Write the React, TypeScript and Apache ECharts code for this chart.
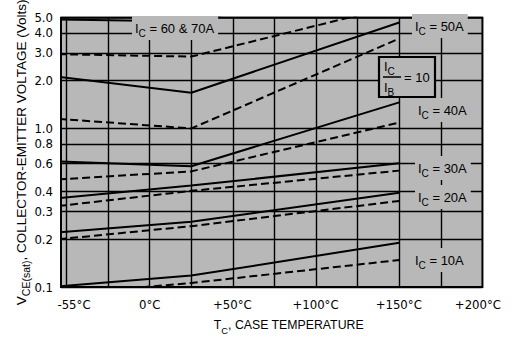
import React, { useEffect, useRef } from 'react';
import * as echarts from 'echarts';

// Case temperatures (°C) where each curve is read
const temps = [-55, 25, 150];

// Solid curves (V)
const solid10A = [0.101, 0.118, 0.19];
const solid20A = [0.221, 0.258, 0.393];
const solid30A = [0.363, 0.436, 0.603];
const solid40A = [0.62, 0.578, 1.46];
const solid50A = [2.12, 1.68, 4.66];
const solid6070A = [4.86, 4.73, 8.6];

// Dashed curves (V)
const dashed10A = [0.09, 0.106, 0.148];
const dashed20A = [0.2, 0.242, 0.349];
const dashed30A = [0.324, 0.404, 0.542];
const dashed40A = [0.477, 0.536, 1.09];
const dashed50A = [1.15, 1.0, 3.69];
const dashed6070A = [2.94, 2.84, 6.0];

const yTickValues = [0.1, 0.2, 0.3, 0.4, 0.6, 0.8, 1.0, 2.0, 3.0, 4.0, 5.0];
const xGridValues = [-50, -25, 0, 25, 50, 75, 100, 125, 150, 175];
const xTickValues = [-55, 0, 50, 100, 150, 200];
const xTickLabels = ['-55°C', '0°C', '+50°C', '+100°C', '+150°C', '+200°C'];
const curveLabels = ['60 & 70A', '50A', '40A', '30A', '20A', '10A'];

const X_MIN = -53.3;
const X_MAX = 200;
const PLOT_BG = '#b8b8b8';
const TICK_FONT = "'Liberation Sans Narrow', 'Arial Narrow', 'DejaVu Sans Condensed', sans-serif";
const TEXT_FONT = "'Liberation Sans', Arial, sans-serif";

export default function App() {
  const ref = useRef<HTMLDivElement>(null);

  useEffect(() => {
    if (!ref.current) return;
    const chart = echarts.init(ref.current, undefined, { renderer: 'svg' });

    const subRich = (size: number) => ({
      a: { fontSize: size, lineHeight: 20, verticalAlign: 'middle', fontFamily: TEXT_FONT, color: '#000' },
      b: { fontSize: size - 3, lineHeight: 10, verticalAlign: 'bottom', fontFamily: TEXT_FONT, color: '#000' },
    });

    const mk = (vals: number[], dashed: boolean) => ({
      type: 'line',
      data: temps.map((t, i) => [t, vals[i]]),
      showSymbol: false,
      symbol: 'none',
      silent: true,
      z: 3,
      lineStyle: { color: '#000', width: 2, type: dashed ? [8, 4] : 'solid' },
    });

    const xLabelPos = xTickValues.map((v) => Math.min(Math.max(v, X_MIN), X_MAX));
    const xFormatter = (v: number) => {
      let idx = 0;
      let best = Infinity;
      xLabelPos.forEach((p, i) => {
        if (Math.abs(p - v) < best) {
          best = Math.abs(p - v);
          idx = i;
        }
      });
      const key = idx === 0 ? 'l' : idx === xLabelPos.length - 1 ? 'r' : idx === 1 ? 'c' : 'm';
      return `{${key}|${xTickLabels[idx]}}`;
    };
    const tickStyle = { fontFamily: TICK_FONT, fontSize: 13, lineHeight: 14, color: '#000' };

    const annPos = [
      [132, 28],
      [412, 26],
      [415, 110],
      [415, 168],
      [415, 197],
      [412, 260],
    ];

    const graphics: any[] = curveLabels.map((lab, i) => ({
      type: 'text',
      x: annPos[i][0],
      y: annPos[i][1],
      z: 50,
      style: {
        text: `{a|I}{b|C}{a| = ${lab}}`,
        rich: subRich(13),
        verticalAlign: 'middle',
        align: 'left',
        backgroundColor: PLOT_BG,
        padding: [2, 4, 2, 3],
      },
    }));
    graphics.push(
      {
        type: 'rect',
        z: 50,
        shape: { x: 379, y: 57, width: 56, height: 40 },
        style: { fill: PLOT_BG, stroke: '#000', lineWidth: 2.2 },
      },
      {
        type: 'text', x: 384, y: 66, z: 51,
        style: { text: '{a|I}{b|C}', rich: subRich(13), verticalAlign: 'middle', align: 'left' },
      },
      {
        type: 'line', z: 51,
        shape: { x1: 383, y1: 77, x2: 401, y2: 77 },
        style: { stroke: '#000', lineWidth: 1.5 },
      },
      {
        type: 'text', x: 384, y: 87, z: 51,
        style: { text: '{a|I}{b|B}', rich: subRich(13), verticalAlign: 'middle', align: 'left' },
      },
      {
        type: 'text', x: 404, y: 77, z: 51,
        style: { text: '= 10', font: `13px ${TEXT_FONT}`, fill: '#000', verticalAlign: 'middle', align: 'left' },
      }
    );

    const option: any = {
      animation: false,
      backgroundColor: '#ffffff',
      grid: {
        left: 61, right: 19, top: 11, bottom: 46,
        show: true, backgroundColor: PLOT_BG, borderColor: '#000', borderWidth: 2,
      },
      xAxis: {
        type: 'value', min: X_MIN, max: X_MAX,
        splitLine: { show: false }, axisLine: { show: false }, axisTick: { show: false },
        axisLabel: {
          customValues: xLabelPos,
          margin: 10,
          formatter: xFormatter,
          ...tickStyle,
          rich: {
            l: { ...tickStyle, padding: [0, 0, 0, 26] },
            c: { ...tickStyle },
            m: { ...tickStyle, padding: [0, 1, 0, 0] },
            r: { ...tickStyle, padding: [0, 9, 0, 0] },
          },
        },
        name: '{a|T}{b|C}{a|, CASE TEMPERATURE}',
        nameLocation: 'middle',
        nameGap: 28,
        nameTextStyle: { rich: subRich(12.3), padding: [0, 0, 0, 34] },
      },
      yAxis: {
        type: 'log', logBase: 10, min: 0.1, max: 5,
        splitLine: { show: false }, axisLine: { show: false }, axisTick: { show: false },
        axisLabel: { show: false },
        name: '{a|V}{b|CE(sat)}{a|, COLLECTOR-EMITTER VOLTAGE (Volts)}',
        nameLocation: 'middle',
        nameRotate: 90,
        nameGap: 30,
        nameTextStyle: { rich: subRich(13.5) },
      },
      graphic: graphics,
      series: [
        {
          type: 'line',
          data: [],
          z: 1,
          silent: true,
          markLine: {
            silent: true,
            symbol: ['none', 'none'],
            animation: false,
            lineStyle: { color: '#000', width: 1.4, type: 'solid' },
            data: [
              ...yTickValues.map((v) => ({
                yAxis: v,
                label: {
                  show: true,
                  position: 'start',
                  distance: 8,
                  formatter: (p: any) => Number(p.value).toFixed(1),
                  fontFamily: TICK_FONT,
                  fontSize: 13,
                  color: '#000',
                },
              })),
              ...xGridValues.map((v) => ({ xAxis: v, label: { show: false } })),
            ],
          },
        },
        mk(solid10A, false),
        mk(solid20A, false),
        mk(solid30A, false),
        mk(solid40A, false),
        mk(solid50A, false),
        mk(solid6070A, false),
        mk(dashed10A, true),
        mk(dashed20A, true),
        mk(dashed30A, true),
        mk(dashed40A, true),
        mk(dashed50A, true),
        mk(dashed6070A, true),
      ],
    };

    chart.setOption(option);
    return () => chart.dispose();
  }, []);

  return (
    <div
      ref={ref}
      style={{ position: 'fixed', left: 0, top: 0, width: 513, height: 340 }}
    />
  );
}
